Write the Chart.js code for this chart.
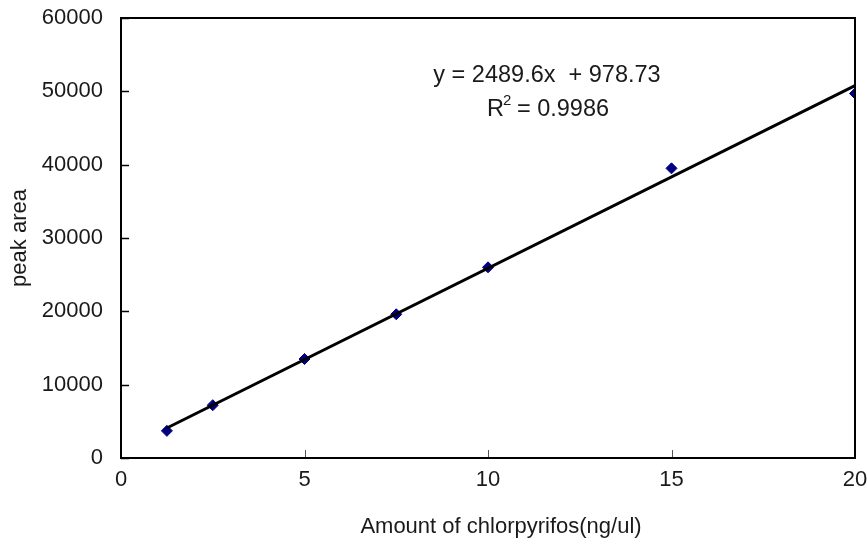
<!DOCTYPE html>
<html>
<head>
<meta charset="utf-8">
<script src="https://cdn.jsdelivr.net/npm/chart.js@4/dist/chart.umd.min.js"></script>
<style>
  html, body { margin: 0; padding: 0; background: #fff; }
  #wrap { width: 867px; height: 544px; }
</style>
</head>
<body>
<div id="wrap"><canvas id="calib"></canvas></div>
<script>
// calibration points: amount (ng/ul) vs peak area
const amounts = [1.25, 2.5, 5, 7.5, 10, 15, 20];
const peakAreas = [3700, 7200, 13500, 19600, 26000, 39500, 49700];

// linear fit as printed on the chart
const slope = 2489.6;
const intercept = 978.73;
const rSquared = "0.9986";

const xTicks = [0, 5, 10, 15, 20];
const yTicks = [0, 10000, 20000, 30000, 40000, 50000, 60000];

const FONT = "'Liberation Sans', Arial, sans-serif";
const FS = 22;

const fitStart = amounts[0];
const fitEnd = amounts[amounts.length - 1];
const fitLine = [
  { x: fitStart, y: slope * fitStart + intercept },
  { x: fitEnd, y: slope * fitEnd + intercept }
];

// box frame, inward tick marks, x title and the equation text
const framePlugin = {
  id: "frame",
  afterDatasetsDraw(chart) {
    const { ctx, chartArea: a, scales } = chart;
    ctx.save();
    ctx.strokeStyle = "#000";

    ctx.lineWidth = 1.5;
    yTicks.forEach(v => {
      const y = Math.round(scales.y.getPixelForValue(v)) + 0.5;
      ctx.beginPath();
      ctx.moveTo(a.left, y);
      ctx.lineTo(a.left + 8, y);
      ctx.stroke();
    });
    ctx.lineWidth = 1;
    ctx.strokeStyle = "#555";
    xTicks.forEach(v => {
      const x = Math.round(scales.x.getPixelForValue(v)) + 0.5;
      ctx.beginPath();
      ctx.moveTo(x, a.bottom);
      ctx.lineTo(x, a.bottom - 8);
      ctx.stroke();
    });

    ctx.strokeStyle = "#000";
    ctx.lineWidth = 2;
    ctx.strokeRect(a.left, a.top, a.right - a.left, a.bottom - a.top);

    ctx.fillStyle = "#1a1a1a";
    ctx.textAlign = "center";
    ctx.textBaseline = "middle";
    ctx.font = FS + "px " + FONT;
    ctx.fillText("Amount of chlorpyrifos(ng/ul)", 501, 527);

    ctx.font = "23.5px " + FONT;
    ctx.fillText("y = 2489.6x  + 978.73", 547, 76);
    const rText = "R  = " + rSquared;
    const w = ctx.measureText(rText).width;
    ctx.fillText(rText, 548, 110);
    ctx.font = "15px " + FONT;
    ctx.textAlign = "left";
    ctx.fillText("2", 548 - w / 2 + 16, 101);
    ctx.restore();
  }
};

const tickFont = { family: FONT, size: FS };

new Chart(document.getElementById("calib"), {
  type: "scatter",
  data: {
    datasets: [
      {
        label: "peak area",
        data: amounts.map((a, i) => ({ x: a, y: peakAreas[i] })),
        pointStyle: "rectRot",
        pointRadius: 5.5,
        pointBackgroundColor: "#000080",
        pointBorderColor: "#000080",
        order: 2
      },
      {
        type: "line",
        label: "fit",
        data: fitLine,
        borderColor: "#000",
        borderWidth: 3,
        pointRadius: 0,
        fill: false,
        clip: false,
        order: 1
      }
    ]
  },
  plugins: [framePlugin],
  options: {
    responsive: true,
    maintainAspectRatio: false,
    animation: false,
    layout: { padding: { left: 0, right: 12, top: 18, bottom: 0 } },
    plugins: {
      legend: { display: false },
      tooltip: { enabled: false }
    },
    scales: {
      x: {
        type: "linear",
        min: 0,
        max: 20,
        afterBuildTicks: s => { s.ticks = xTicks.map(v => ({ value: v })); },
        afterFit: s => { s.height = 86; s.paddingLeft = 0; s.paddingRight = 0; },
        grid: { display: false, drawTicks: false },
        border: { display: false },
        ticks: { color: "#1a1a1a", padding: 9, font: tickFont, callback: v => String(v) },
        title: { display: false }
      },
      y: {
        type: "linear",
        min: 0,
        max: 60000,
        afterBuildTicks: s => { s.ticks = yTicks.map(v => ({ value: v })); },
        afterFit: s => { s.width = 121; s.paddingTop = 0; s.paddingBottom = 0; },
        grid: { display: false, drawTicks: false },
        border: { display: false },
        ticks: { color: "#1a1a1a", padding: 18, font: tickFont, callback: v => String(v) },
        title: {
          display: true,
          text: "peak area",
          color: "#1a1a1a",
          padding: { top: 7, bottom: 0 },
          font: tickFont
        }
      }
    }
  }
});
</script>
</body>
</html>
